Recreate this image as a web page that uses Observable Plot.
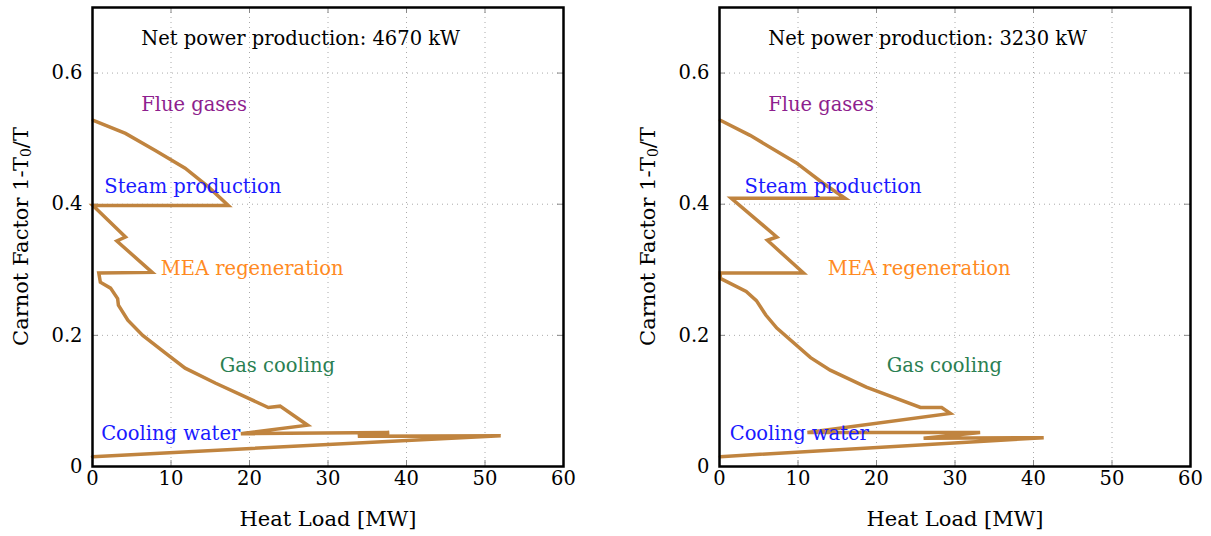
<!DOCTYPE html>
<html><head><meta charset="utf-8">
<script src="https://cdn.jsdelivr.net/npm/d3@7"></script>
<script src="https://cdn.jsdelivr.net/npm/@observablehq/plot@0.6"></script>
<style>
body{margin:0;background:#fff;}
#wrap{display:flex;width:1211px;height:536px;overflow:hidden;}
svg{display:block;}
</style>
</head><body><div id="wrap"></div>
<script>
// ---- data ----
const xTicks = [0, 10, 20, 30, 40, 50, 60];
const yTicks = [0, 0.2, 0.4, 0.6];

// Left panel: heat load [MW] and Carnot factor along the composite curve
const leftHeat = [0.1, 4.2, 8.0, 11.8, 14.8, 17.3, 0.05, 4.2, 3.1, 7.6, 0.8, 1.0, 2.3, 3.2, 3.3, 4.5, 6.4, 9.3, 11.8, 15.7, 22.4, 23.9, 27.4, 18.9, 37.8, 33.8, 52.0, 0.0];
const leftCarnot = [0.528, 0.508, 0.482, 0.455, 0.426, 0.398, 0.398, 0.350, 0.344, 0.296, 0.295, 0.281, 0.272, 0.256, 0.246, 0.223, 0.200, 0.173, 0.150, 0.127, 0.090, 0.092, 0.063, 0.050, 0.052, 0.046, 0.047, 0.015];

// Right panel
const rightHeat = [0.1, 3.9, 9.8, 13.2, 16.0, 1.5, 7.3, 6.1, 10.7, 0.1, 0.1, 3.4, 4.7, 5.9, 7.3, 11.6, 14.1, 18.7, 25.6, 28.3, 29.4, 11.2, 33.2, 26.0, 41.3, 0.1];
const rightCarnot = [0.528, 0.505, 0.463, 0.432, 0.409, 0.409, 0.350, 0.345, 0.295, 0.295, 0.287, 0.267, 0.253, 0.231, 0.211, 0.166, 0.147, 0.121, 0.090, 0.090, 0.081, 0.052, 0.052, 0.043, 0.044, 0.015];

// Annotations
const leftTitle = "Net power production: 4670 kW";
const rightTitle = "Net power production: 3230 kW";
const streamNames = ["Flue gases", "Steam production", "MEA regeneration", "Gas cooling", "Cooling water"];
const leftLabelX = [6.2, 1.5, 8.7, 16.2, 1.1];
const rightLabelX = [6.2, 3.2, 13.8, 21.3, 1.3];
const labelY = [0.551, 0.426, 0.301, 0.153, 0.050];
const titleX = 6.2, titleY = 0.652;

// ---- styles ----
const streamColor = {
  "Flue gases": "#8e1f8e",
  "Steam production": "#1a1aff",
  "MEA regeneration": "#ff8a22",
  "Gas cooling": "#2b7f52",
  "Cooling water": "#1a1aff"
};
const FONT = "'DejaVu Serif', serif";
const lineColor = "#c0843f";

function panel(heat, carnot, labelX, title, width, marginRight) {
  const pts = heat.map((h, i) => ({h, c: carnot[i]}));
  const labels = streamNames.map((n, i) => ({n, x: labelX[i], y: labelY[i]}));
  const H = 536, mt = 7, mb = 70, ml = 92;
  const innerH = H - mt - mb, innerW = width - ml - marginRight;
  const tk = 6;
  const svg = Plot.plot({
    width, height: H, marginLeft: ml, marginRight, marginTop: mt, marginBottom: mb,
    style: {fontFamily: FONT, fontSize: "19px", background: "white", color: "black"},
    x: {domain: [0, 60]},
    y: {domain: [0, 0.7]},
    marks: [
      Plot.gridX(xTicks, {stroke: "#aaa", strokeOpacity: 1, strokeWidth: 1, strokeDasharray: "1,4"}),
      Plot.gridY(yTicks, {stroke: "#aaa", strokeOpacity: 1, strokeWidth: 1, strokeDasharray: "1,4"}),
      Plot.tickX(xTicks, {x: d => d, stroke: "#888", insetTop: innerH - tk}),
      Plot.tickX(xTicks, {x: d => d, stroke: "#888", insetBottom: innerH - tk}),
      Plot.tickY(yTicks, {y: d => d, stroke: "#888", insetRight: innerW - tk}),
      Plot.tickY(yTicks, {y: d => d, stroke: "#888", insetLeft: innerW - tk}),
      Plot.axisX({ticks: xTicks, tickSize: 0, tickPadding: 5, tickFormat: d => String(d), label: null, fontSize: 19.5}),
      Plot.axisY({ticks: yTicks, tickSize: 0, tickPadding: 10, tickFormat: d => d === 0 ? "0" : d.toFixed(1), label: null, fontSize: 19.5}),
      Plot.line(pts, {x: "h", y: "c", stroke: lineColor, strokeWidth: 3.5, strokeLinejoin: "miter", strokeMiterlimit: 10}),
      Plot.text(labels, {x: "x", y: "y", text: "n", fill: d => streamColor[d.n], textAnchor: "start", fontSize: 19.5}),
      Plot.text([title], {x: titleX, y: titleY, text: d => d, fill: "black", textAnchor: "start", fontSize: 19.5}),
      Plot.text(["Heat Load [MW]"], {frameAnchor: "bottom", dy: 53, lineAnchor: "middle", text: d => d, fontSize: 21, fill: "black"}),
      Plot.frame({stroke: "black", strokeWidth: 2.5})
    ]
  });
  // y-axis label with subscript
  const s = d3.select(svg);
  const t = s.append("text")
    .attr("transform", `translate(22,${mt + innerH / 2}) rotate(-90)`)
    .attr("text-anchor", "middle")
    .attr("dominant-baseline", "middle")
    .attr("font-family", FONT)
    .attr("font-size", 21)
    .attr("fill", "black");
  t.append("tspan").text("Carnot Factor 1-T");
  t.append("tspan").attr("font-size", 14).attr("dy", 5).text("0");
  t.append("tspan").attr("dy", -5).text("/T");
  return svg;
}

const wrap = document.getElementById("wrap");
wrap.appendChild(panel(leftHeat, leftCarnot, leftLabelX, leftTitle, 627, 64));
wrap.appendChild(panel(rightHeat, rightCarnot, rightLabelX, rightTitle, 584, 21));
</script>
</body></html>
